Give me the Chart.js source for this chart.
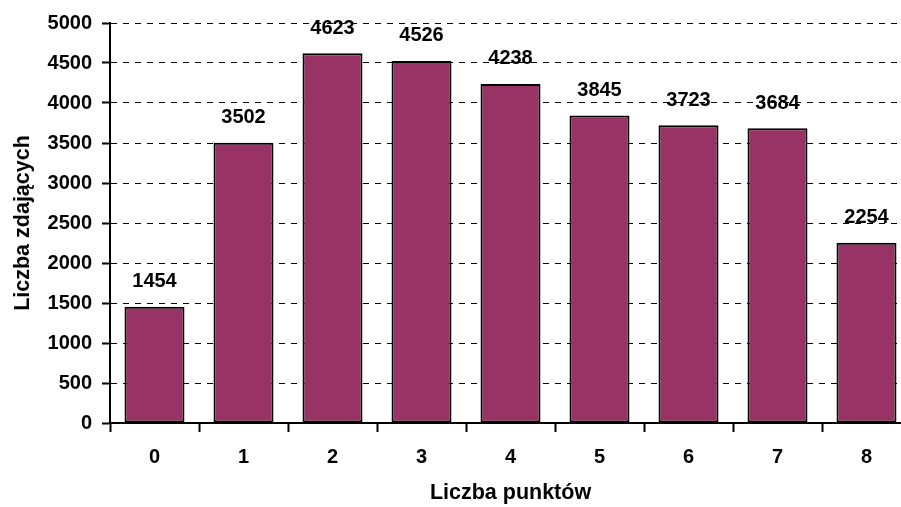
<!DOCTYPE html>
<html>
<head>
<meta charset="utf-8">
<script src="https://cdn.jsdelivr.net/npm/chart.js@4/dist/chart.umd.min.js"></script>
<style>
  html, body { margin: 0; padding: 0; background: #ffffff; overflow: hidden; }
  #wrap { position: relative; width: 925px; height: 507px; }
</style>
</head>
<body>
<div id="wrap"><canvas id="chart"></canvas></div>
<script>
// Number of exam takers per score
const categories = ['0', '1', '2', '3', '4', '5', '6', '7', '8'];
const takers = [1454, 3502, 4623, 4526, 4238, 3845, 3723, 3684, 2254];
const xTitle = 'Liczba punktów';
const yTitle = 'Liczba zdających';

const FONT = '"Liberation Sans", Arial, sans-serif';

// Prints each bar's value above it
const valueLabels = {
  id: 'valueLabels',
  afterDatasetsDraw(chart) {
    const ctx = chart.ctx;
    const meta = chart.getDatasetMeta(0);
    ctx.save();
    ctx.font = 'bold 20px ' + FONT;
    ctx.fillStyle = '#000000';
    ctx.textAlign = 'center';
    ctx.textBaseline = 'middle';
    meta.data.forEach((bar, i) => {
      ctx.fillText(String(takers[i]), bar.x, bar.y - 25);
    });
    ctx.restore();
  }
};

new Chart(document.getElementById('chart'), {
  type: 'bar',
  data: {
    labels: categories,
    datasets: [{
      data: takers,
      backgroundColor: '#993366',
      borderColor: '#000000',
      borderWidth: 2,
      borderSkipped: false,
      categoryPercentage: 1.0,
      barPercentage: 0.674
    }]
  },
  options: {
    responsive: true,
    maintainAspectRatio: false,
    animation: false,
    layout: { padding: { top: 23, right: 14, bottom: 0, left: 0 } },
    plugins: {
      legend: { display: false },
      tooltip: { enabled: false }
    },
    scales: {
      x: {
        grid: {
          display: true,
          drawOnChartArea: false,
          drawTicks: true,
          offset: true,
          tickLength: 9,
          tickWidth: 2,
          tickColor: '#000000'
        },
        border: { display: true, color: '#000000', width: 2 },
        ticks: {
          color: '#000000',
          font: { family: FONT, size: 20, weight: 'bold' },
          padding: 13,
          maxRotation: 0
        },
        title: {
          display: true,
          text: xTitle,
          color: '#000000',
          font: { family: FONT, size: 21.5, weight: 'bold' },
          padding: { top: 0, bottom: 1 }
        },
        afterFit(scale) { scale.height = 84; }
      },
      y: {
        min: 0,
        max: 5000,
        grid: {
          color: '#000000',
          lineWidth: 1,
          drawTicks: true,
          tickLength: 8,
          tickWidth: 2,
          tickColor: '#000000'
        },
        border: { display: true, color: '#000000', width: 2, dash: [6, 6] },
        ticks: {
          stepSize: 500,
          color: '#000000',
          font: { family: FONT, size: 20, weight: 'bold' },
          padding: 10,
          callback: (value) => String(value)
        },
        title: {
          display: true,
          text: yTitle,
          color: '#000000',
          font: { family: FONT, size: 21.5, weight: 'bold' },
          padding: { top: 10, bottom: 0 }
        },
        afterFit(scale) { scale.width = 110; }
      }
    }
  },
  plugins: [valueLabels]
});
</script>
</body>
</html>
